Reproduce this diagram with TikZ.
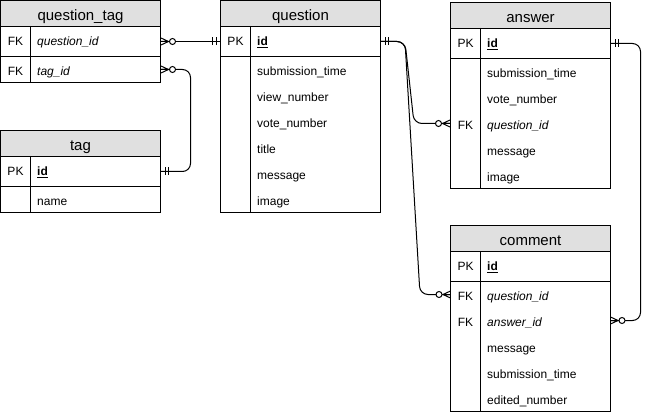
\documentclass[tikz,border=0pt]{standalone}
\usepackage{fontspec}
\setmainfont{Liberation Sans}
\definecolor{hdrgray}{HTML}{E0E0E0}
\tikzset{
  tb/.style={draw, line width=1pt, minimum width=160pt, inner sep=0pt},
  hdrbox/.style={tb, fill=hdrgray, minimum height=26pt},
  ttl/.style={anchor=base, inner sep=0pt, font=\fontsize{15}{18}\selectfont},
  keytxt/.style={anchor=base, inner sep=0pt, font=\fontsize{12}{14}\selectfont},
  fld/.style={anchor=base west, inner sep=0pt, font=\fontsize{12}{14}\selectfont},
  conn/.style={line width=1pt, rounded corners=8pt},
  zmany/.pic={
    \draw[line width=1pt] (0,-3.5) -- (7.5,0) -- (0,3.5) (0,0) -- (7.5,0);
    \draw[line width=1pt, fill=white] (11.5,0) circle[radius=3pt];
  },
  mone/.pic={
    \draw[line width=1pt] (4,-4) -- (4,4) (7.5,-4) -- (7.5,4);
  }
}
% name, left, top, title, body height
\newcommand\ertab[5]{%
  \node[hdrbox] (#1-h) at (#2+80,#3+13) {};
  \node[ttl] (#1-t) at (#2+80,#3+20) {#4};
  \node[tb, minimum height=30pt] (#1-pk) at (#2+80,#3+41) {};
  \node[tb, minimum height=#5pt] (#1-b) at (#2+80,#3+56+#5/2) {};
  \draw[line width=1pt] ([xshift=30pt]#1-pk.north west) -- ([xshift=30pt]#1-b.south west);
}
\begin{document}
\begin{tikzpicture}[x=1pt,y=-1pt]
\useasboundingbox (0,0) rectangle (650,414);

% question_tag
\ertab{qt}{0.5}{0.5}{question\_tag}{26}
\node[keytxt] (qt-k1) at (15.5,45.8) {FK};
\node[fld] (qt-f1) at (37,45.8) {\itshape question\_id};
\node[keytxt] (qt-k2) at (15.5,75.3) {FK};
\node[fld] (qt-f2) at (37,75.3) {\itshape tag\_id};

% tag
\ertab{tag}{0.5}{130.5}{tag}{26}
\node[keytxt] (tag-k1) at (15.5,175.8) {PK};
\node[fld] (tag-f1) at (37,175.8) {\underline{\textbf{id}}};
\node[fld] (tag-f2) at (37,205.3) {name};

% question
\ertab{q}{220.5}{0.5}{question}{156}
\node[keytxt] (q-k1) at (235.5,45.8) {PK};
\node[fld] (q-f1) at (257,45.8) {\underline{\textbf{id}}};
\node[fld] (q-f2) at (257,75.3) {submission\_time};
\node[fld] (q-f3) at (257,101.3) {view\_number};
\node[fld] (q-f4) at (257,127.3) {vote\_number};
\node[fld] (q-f5) at (257,153.3) {title};
\node[fld] (q-f6) at (257,179.3) {message};
\node[fld] (q-f7) at (257,205.3) {image};

% answer
\ertab{a}{450.5}{2.5}{answer}{130}
\node[keytxt] (a-k1) at (465.5,47.8) {PK};
\node[fld] (a-f1) at (487,47.8) {\underline{\textbf{id}}};
\node[fld] (a-f2) at (487,77.3) {submission\_time};
\node[fld] (a-f3) at (487,103.3) {vote\_number};
\node[keytxt] (a-k4) at (465.5,129.3) {FK};
\node[fld] (a-f4) at (487,129.3) {\itshape question\_id};
\node[fld] (a-f5) at (487,155.3) {message};
\node[fld] (a-f6) at (487,181.3) {image};

% comment
\ertab{c}{450.5}{225.5}{comment}{130}
\node[keytxt] (c-k1) at (465.5,270.8) {PK};
\node[fld] (c-f1) at (487,270.8) {\underline{\textbf{id}}};
\node[keytxt] (c-k2) at (465.5,300.3) {FK};
\node[fld] (c-f2) at (487,300.3) {\itshape question\_id};
\node[keytxt] (c-k3) at (465.5,326.3) {FK};
\node[fld] (c-f3) at (487,326.3) {\itshape answer\_id};
\node[fld] (c-f4) at (487,352.3) {message};
\node[fld] (c-f5) at (487,378.3) {submission\_time};
\node[fld] (c-f6) at (487,404.3) {edited\_number};

% connector end points on rows
\coordinate (c-qid) at (450.5,294.5);
\coordinate (c-aid) at (610.5,320.5);

% connectors
\draw[conn] (qt-pk.east) -- (q-pk.west);
\draw[conn] (qt-b.east) -- (190.5,69.5) -- (190.5,171.5) -- (tag-pk.east);
\draw[conn] (q-pk.east) -- (405,41.5) -- (414,123.5) -- (a-b.west);
\draw[conn] (q-pk.east) -- (405,41.5) -- (420,294.5) -- (c-qid);
\draw[conn] (a-pk.east) -- (640.5,43.5) -- (640.5,320.5) -- (c-aid);

% markers
\pic at (qt-pk.east) {zmany};
\pic at (qt-b.east) {zmany};
\pic[xscale=-1] at (q-pk.west) {mone};
\pic at (tag-pk.east) {mone};
\pic at (q-pk.east) {mone};
\pic[xscale=-1] at (a-b.west) {zmany};
\pic[xscale=-1] at (c-qid) {zmany};
\pic at (a-pk.east) {mone};
\pic at (c-aid) {zmany};
\end{tikzpicture}
\end{document}
